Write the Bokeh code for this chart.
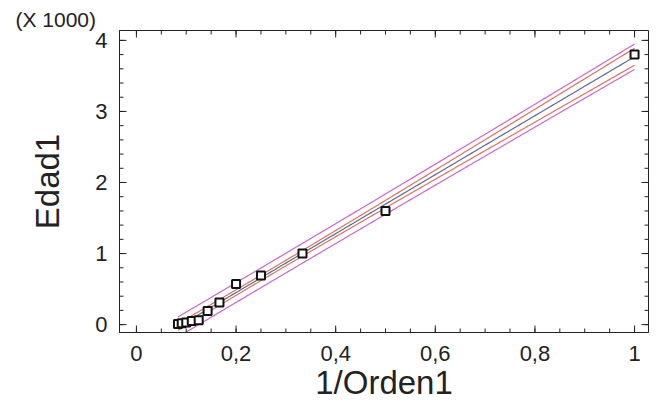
import numpy as np
from bokeh.plotting import figure
from bokeh.models import (FixedTicker, CustomJSTickFormatter, Title, Range1d)
from bokeh.embed import file_html
from bokeh.resources import INLINE

# ---- data ----
orden = [12, 11, 10, 9, 8, 7, 6, 5, 4, 3, 2, 1]
inv_orden = [1.0 / o for o in orden]
edad = [10, 20, 30, 50, 60, 190, 310, 570, 690, 1000, 1600, 3800]
x_ticks = [0, 0.2, 0.4, 0.6, 0.8, 1.0]
y_ticks = [0, 1, 2, 3, 4]          # in thousands
x_minor_step = 0.05
y_minor_step = 0.2
t_value = 2.228                    # t(0.975, df=10)

# ---- regression with 95% confidence / prediction limits ----
x = np.array(inv_orden)
y = np.array(edad) / 1000.0
n = len(x)
b, a = np.polyfit(x, y, 1)
resid = y - (a + b * x)
s = np.sqrt(np.sum(resid ** 2) / (n - 2))
sxx = np.sum((x - x.mean()) ** 2)
xl = np.linspace(x.min(), x.max(), 200)
yl = a + b * xl
se_conf = s * np.sqrt(1.0 / n + (xl - x.mean()) ** 2 / sxx)
se_pred = s * np.sqrt(1.0 + 1.0 / n + (xl - x.mean()) ** 2 / sxx)

FONT = "Liberation Sans"
TXT = "#222222"
AX = "#222222"

x0, x1 = -0.034, 1.028
y0, y1 = -0.111, 4.139

p = figure(width=651, height=403, output_backend="svg", toolbar_location=None,
           x_range=Range1d(x0, x1), y_range=Range1d(y0, y1),
           min_border_left=119, min_border_right=3, min_border_top=30, min_border_bottom=70,
           background_fill_color="white", border_fill_color="white",
           x_axis_label="1/Orden1", y_axis_label="Edad1")
p.outline_line_color = AX
p.xgrid.visible = False
p.ygrid.visible = False

x_minor = list(np.round(np.arange(0.0, x1, x_minor_step), 3))
y_minor = list(np.round(np.arange(0.0, y1, y_minor_step), 3))
xt = FixedTicker(ticks=x_ticks)
yt = FixedTicker(ticks=y_ticks)
xfmt = CustomJSTickFormatter(code="var s = tick.toFixed(1).replace('.', ','); return s.replace(',0', '');")

for ax in [p.xaxis[0], p.yaxis[0]]:
    ax.major_tick_in = 0
    ax.major_tick_out = 0
    ax.minor_tick_in = 0
    ax.minor_tick_out = 0
    ax.axis_line_color = AX
    ax.major_label_text_font = FONT
    ax.major_label_text_font_size = "22px"
    ax.major_label_text_color = TXT
    ax.axis_label_text_font = FONT
    ax.axis_label_text_font_size = "33px"
    ax.axis_label_text_font_style = "normal"
    ax.axis_label_text_color = TXT

p.xaxis[0].ticker = xt
p.xaxis[0].formatter = xfmt
p.xaxis[0].major_label_standoff = 13
p.xaxis[0].axis_label_standoff = 0
p.yaxis[0].ticker = yt
p.yaxis[0].major_label_standoff = 12
p.yaxis[0].axis_label_standoff = 26

p.add_layout(Title(text="(X 1000)", align="left", offset=-104, text_font=FONT,
                   text_font_size="21px", text_font_style="normal", text_color=TXT,
                   standoff=0), "above")

# bands
p.line(xl, yl + t_value * se_pred, line_color="#cc66cc", line_width=1.2)
p.line(xl, yl - t_value * se_pred, line_color="#cc66cc", line_width=1.2)
p.line(xl, yl + t_value * se_conf, line_color="#e07060", line_width=1.2)
p.line(xl, yl - t_value * se_conf, line_color="#e07060", line_width=1.2)
p.line(xl, yl, line_color="#5a6a90", line_width=1.2)

p.scatter(x, y, marker="square", size=8, line_color="#111111", line_width=2, fill_color="white")

# inward ticks on all four sides (markers centred on the frame edge, half clipped)
for pos, size in [(x_ticks, 14), (x_minor, 8)]:
    p.scatter(pos, [y0] * len(pos), marker="dash", angle=np.pi / 2, size=size, line_color=AX, line_width=1)
    p.scatter(pos, [y1] * len(pos), marker="dash", angle=np.pi / 2, size=size, line_color=AX, line_width=1)
for pos, size in [(y_ticks, 14), (y_minor, 8)]:
    p.scatter([x0] * len(pos), pos, marker="dash", size=size, line_color=AX, line_width=1)
    p.scatter([x1] * len(pos), pos, marker="dash", size=size, line_color=AX, line_width=1)

open("out.html", "w").write(file_html(p, INLINE))
